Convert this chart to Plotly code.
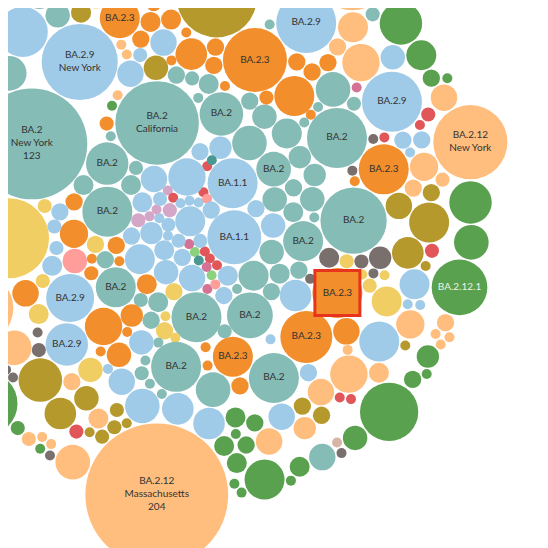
import math
import numpy as np
import plotly.graph_objects as go

# ---------------- data ----------------
# marks grouped in waves from the centre outward; inside a wave they are listed clockwise from 12 o'clock
LINEAGE = {
    "R": "BA.1", "B1": "BA.1.1", "P": "BA.1.15", "V": "BA.1.1.1", "M": "BA.1.1.18",
    "D": "BA.1.17.2", "G1": "BA.1.1.10", "T": "BA.2", "O": "BA.2.3", "B9": "BA.2.9",
    "L": "BA.2.10", "K": "BA.2.18", "Y": "BA.2.7", "C": "BA.2.12", "G": "BA.2.12.1",
    "N": "BA.2.13",
}
COLOR = {
    "BA.1": "#E15759", "BA.1.1": "#A0CBE8", "BA.1.15": "#FF9D9A", "BA.1.1.1": "#D4A6C8",
    "BA.1.1.18": "#D37295", "BA.1.17.2": "#499894", "BA.1.1.10": "#8CD17D", "BA.2": "#86BCB6",
    "BA.2.3": "#F28E2B", "BA.2.9": "#A0CBE8", "BA.2.10": "#B6992D", "BA.2.18": "#79706E",
    "BA.2.7": "#F1CE63", "BA.2.12": "#FFBE7D", "BA.2.12.1": "#59A14F", "BA.2.13": "#D7B5A6",
}

ring0_codes = ("B1 B1 B1 R D R B1* P B1 B1 B1 B1* B1 R R R B1 B1 G1 G1 M M M P D "
               "B1 B1 B1 B1 B1 B1 B1 B1 B1 B1 B1 V V V V V B1 R B1 B1 B1 B1 B1 B1").split()
ring0_cases = [9, 1, 5, 1, 1, 1, 25, 1, 3, 6, 3, 29, 4, 1, 1, 1, 3, 2, 1, 1, 1, 1, 1, 1, 1,
               7, 3, 2, 6, 4, 1, 9, 2, 1, 3, 5, 2, 2, 1, 1, 1, 4, 1, 7, 2, 14, 1, 3, 1]

ring1_codes = ("T T* T T T T T T* T T T T T T T* T T T T T T T* T T* "
               "Y Y Y Y T T T O O T* O O O T Y O O O "
               "T* T T T T* O T T* T T T").split()
ring1_cases = [4, 19, 3, 6, 12, 9, 5, 12, 5, 6, 3, 4, 6, 1, 16, 3, 6, 4, 9, 3, 1, 21, 2, 25,
               1, 1, 3, 3, 3, 4, 2, 4, 5, 16, 1, 2, 1, 3, 3, 3, 8, 3,
               25, 4, 4, 2, 18, 2, 1, 70, 3, 2, 1]

ring2_codes = ("O O O O O* T O O O O O O T T T T T* K K O* O T* K K K K Y Y Y Y O* K O B9 O* "
               "B9 B9 T* O* O O O T T* T T T T T B9 B9 B9 O O O Y O B9* B9* Y Y "
               "P B9 B9 B9 O B9 Y Y "
               "T* B9* O* G C C B9 C O B9 L O B9 O O O").split()
ring2_cases = [10, 3, 1, 3, 41, 1, 3, 3, 2, 16, 3, 1, 12, 1, 2, 1, 36, 1, 1, 25, 1, 44, 2, 5,
               4, 1, 1, 2, 2, 1, 25, 1, 7, 10, 27,
               3, 1, 25, 16, 1, 3, 1, 12, 25, 1, 1, 1, 2, 1, 6, 7, 1, 6, 1, 1, 6, 14, 18, 23,
               4, 2,
               6, 4, 2, 3, 7, 2, 2, 64,
               123, 58, 16, 1, 1, 1, 7, 1, 3, 2, 6, 4, 7, 1, 4, 1]

ring3_codes = ("B9 B9 L C G1 B9* C C C M B9 B9* R R R B9 B9 B9 C C C L L L R L L B9 B9 B9 "
               "Y C L B9 C C C R R C L L C B9 C "
               "G G G G G G "
               "B9 B9 B9 L L L L C L L R C L L K K K K K K "
               "C T T C L R L "
               "C B9 B9 L O O T Y B9 T T C L B9 Y O B9 K Y O K O K C").split()
ring3_cases = [3, 1, 64, 25, 1, 36, 9, 3, 14, 1, 6, 36, 1, 2, 1, 3, 1, 3, 8, 2, 3, 3, 7, 16,
               2, 10, 1, 9, 1, 1,
               9, 8, 1, 16, 4, 1, 14, 1, 1, 7, 3, 3, 5, 7, 7,
               3, 3, 1, 4, 4, 4,
               10, 10, 12, 1, 2, 2, 2, 4, 1, 6, 2, 3, 10, 19, 1, 1, 2, 2, 1, 1,
               12, 1, 1, 49, 3, 1, 12,
               19, 16, 13, 12, 9, 16, 12, 9, 25, 7, 6, 6, 4, 4, 3, 3, 7, 9, 2, 2, 1, 1, 3, 1]

ring4_codes = ("L C C "
               "T G G G G C C* G G G* C C C C G G G G G N K T G G G G G C* C "
               "K C G C C G "
               "G B9 G O L C G K Y G C L B9 G O C G L C G K").split()
ring4_cases = [64, 31, 49,
               2, 18, 9, 3, 1, 7, 55, 18, 12, 31, 3, 1, 1, 1, 5, 1, 3, 34, 6, 1, 1, 7, 4, 1,
               16, 1, 1, 204, 12,
               1, 1, 1, 1, 2, 2,
               41, 36, 25, 25, 19, 16, 16, 13, 12, 9, 9, 8, 7, 6, 6, 4, 4, 4, 3, 3, 3]

# states written on the labelled marks ("*"), in order of appearance
label_states = ["", "",
                "", "", "", "", "", "", "", "", "California",
                "", "", "", "", "", "", "", "", "", "", "", "New York", "New York", "",
                "", "",
                "New York", "", "Massachusetts"]

# ---------------- layout parameters ----------------
K_PX = 5.0            # bubble radius (px) per sqrt(case)
PAD = 1.4             # white gap between bubbles
DENSITY = 0.74        # packing density used to size the waves
PULL_IN = 0.12        # inward compaction step (px / iteration)
ANCHOR = (185, 205)   # pixel position of the pack centre in the 548 px view
W = 548

rings = [(ring0_codes, ring0_cases), (ring1_codes, ring1_cases), (ring2_codes, ring2_cases),
         (ring3_codes, ring3_cases), (ring4_codes, ring4_cases)]

codes, cases, tx, ty = [], [], [], []
cum = 0.0
for ri, (cds, cs) in enumerate(rings):
    assert len(cds) == len(cs), (ri, len(cds), len(cs))
    rl = [K_PX * math.sqrt(v) for v in cs]
    area = sum(math.pi * (r + PAD / 2) ** 2 for r in rl) / DENSITY
    rho_in = math.sqrt(cum / math.pi)
    cum += area
    rho_out = math.sqrt(cum / math.pi)
    tot = sum(rl)
    acc = 0.0
    for k, r in enumerate(rl):
        th = 2 * math.pi * (acc + r / 2) / tot
        acc += r
        if ri == 0:
            rho = 0.0 if k == 0 else 0.55 * rho_out
        else:
            rho = (rho_in + rho_out) / 2
        tx.append(rho * math.sin(th))
        ty.append(-rho * math.cos(th))
    codes += cds
    cases += cs

n = len(cases)
labelled = [c.endswith("*") for c in codes]
lineage = [LINEAGE[c.rstrip("*")] for c in codes]
radius = np.array([K_PX * math.sqrt(v) for v in cases])

# ---------------- relax: remove overlaps, keep marks near their wave position ----------------
T = np.column_stack([tx, ty])
P = T.copy()
Rr = radius + PAD / 2
mass = Rr ** 2
wmat = mass[None, :] / (mass[:, None] + mass[None, :])
sumR = Rr[:, None] + Rr[None, :]
ITER = 700
for it in range(ITER):
    d = P[:, None, :] - P[None, :, :]
    dist = np.sqrt((d ** 2).sum(-1))
    np.fill_diagonal(dist, 1e9)
    ov = sumR - dist
    ov[ov < 0] = 0.0
    f = (ov * wmat / np.maximum(dist, 1e-6))[:, :, None] * d
    P = P + 0.5 * f.sum(1)
    if it < ITER - 120:
        a = 0.06 * max(0.0, 1 - it / 450)
        P = P + a * (T - P)
        nr = np.sqrt((P ** 2).sum(1)) + 1e-9
        P = P - PULL_IN * P / nr[:, None]

xs = P[:, 0]
ys = P[:, 1]

# ---------------- labels ----------------
texts = []
li = 0
for i in range(n):
    if labelled[i]:
        s = label_states[li] if li < len(label_states) else ""
        li += 1
        t = lineage[i]
        if s:
            t += "<br>" + s
        if cases[i] >= 100:
            t += "<br>" + str(cases[i])
        texts.append(t)
    else:
        texts.append("")

fig = go.Figure()
fig.add_trace(go.Scatter(
    x=xs, y=ys, mode="markers",
    marker=dict(size=2 * radius, color=[COLOR[l] for l in lineage], line=dict(width=0), opacity=1),
    hoverinfo="skip",
))

sel = [i for i in range(n) if labelled[i] and lineage[i] == "BA.2.3"][2]
fig.add_trace(go.Scatter(
    x=[xs[sel]], y=[ys[sel]], mode="markers",
    marker=dict(symbol="square", size=2 * radius[sel] - 5, color="#F28E2B",
                line=dict(color="#E8341C", width=3)),
    hoverinfo="skip",
))

lab = [i for i in range(n) if texts[i]]
fig.add_trace(go.Scatter(
    x=xs[lab], y=ys[lab], text=[texts[i] for i in lab],
    mode="text", textposition="middle center",
    textfont=dict(family="Lato, Open Sans, sans-serif", size=10,
                  color=["#EAF4E6" if lineage[i] == "BA.2.12.1" else "#333333" for i in lab]),
    hoverinfo="skip",
))

fig.update_layout(
    width=W, height=W, margin=dict(l=0, r=0, t=0, b=0),
    paper_bgcolor="white", plot_bgcolor="white", showlegend=False,
    xaxis=dict(visible=False, range=[-ANCHOR[0], W - ANCHOR[0]], fixedrange=True),
    yaxis=dict(visible=False, range=[W - ANCHOR[1], -ANCHOR[1]], fixedrange=True),
)
fig.write_html("out.html")
